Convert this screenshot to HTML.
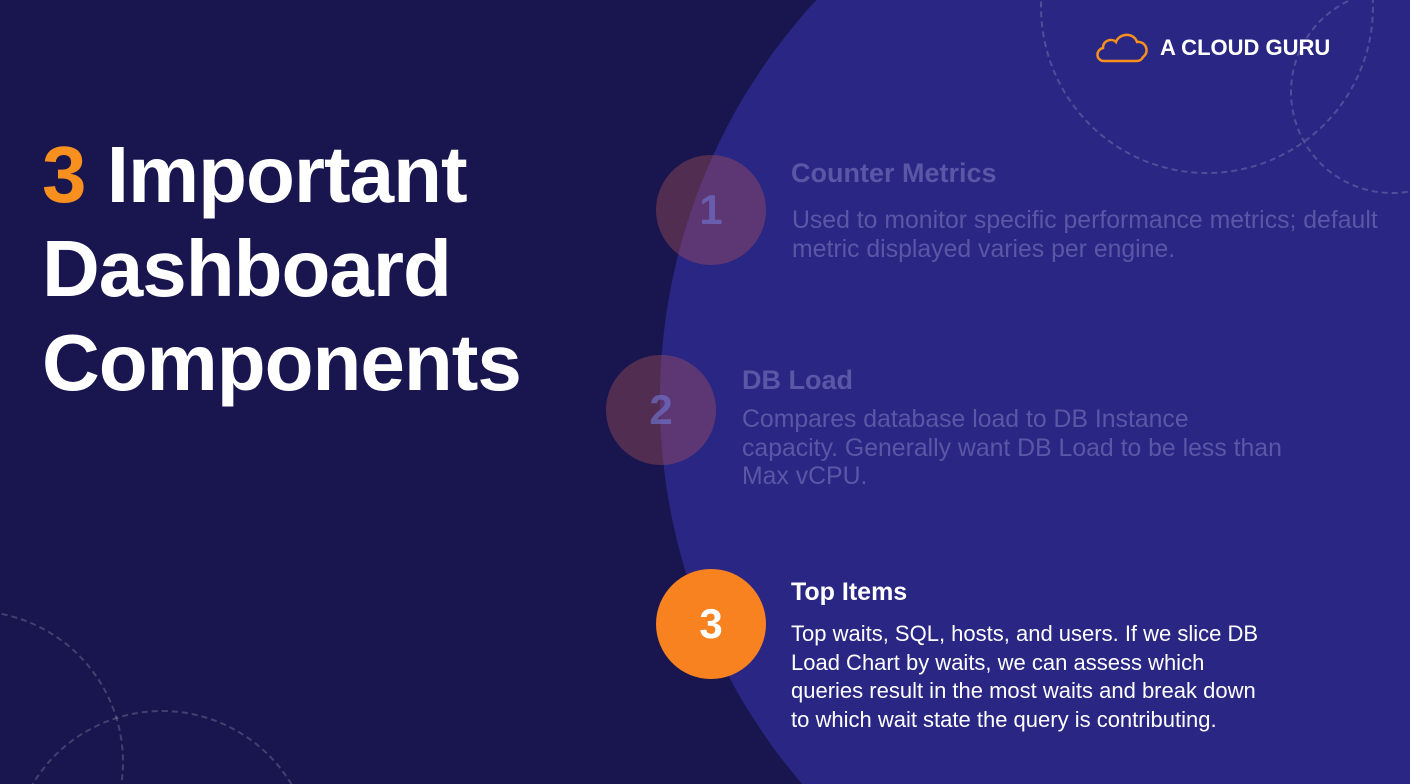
<!DOCTYPE html>
<html><head><meta charset="utf-8"><style>
html,body{margin:0;padding:0;width:1410px;height:784px;overflow:hidden}
#wrap{position:relative;width:1410px;height:784px;overflow:hidden;background:#19164f;font-family:"Liberation Sans",sans-serif}
.big{position:absolute;left:660px;top:-190px;width:1180px;height:1180px;border-radius:50%;background:#2a2683}
.dash{position:absolute;border:2px dashed rgba(255,255,255,0.18);border-radius:50%}
.title{position:absolute;left:42px;top:128px;color:#fff;font-weight:bold;font-size:80px;line-height:94px;letter-spacing:-1px}
.title span{color:#f7901e}
.c{position:absolute;width:110px;height:110px;border-radius:50%;color:#fff;font-weight:bold;font-size:42px;text-align:center;line-height:110px}
.faded{background:rgba(190,90,90,0.35);color:rgba(110,110,200,0.7)}
.h{position:absolute;font-weight:bold;font-size:25px}
.p{position:absolute;font-size:22px;line-height:28.5px}
.f{color:#5a57a6}
.pf{font-size:24.8px}
.hf{font-size:27px}
.w{color:#fff}
.logo{position:absolute;left:1160px;top:35px;color:#fff;font-weight:bold;font-size:22px}
</style></head><body><div id="wrap">
<div class="big"></div>
<div class="dash" style="left:1040px;top:-160px;width:330px;height:330px"></div>
<div class="dash" style="left:1290px;top:-10px;width:200px;height:200px"></div>
<div class="dash" style="left:-180px;top:610px;width:300px;height:300px"></div>
<div class="dash" style="left:10px;top:710px;width:300px;height:300px"></div>
<div class="title"><span>3</span> Important<br>Dashboard<br>Components</div>
<svg style="position:absolute;left:1094px;top:30px" width="56" height="34" viewBox="0 0 56 34"><path d="M10 31 C2 31 1 20 9 18 C9 10 18 8 22 12 C25 3 40 2 43 12 C52 11 56 22 49 27 C47 31 44 31 42 31 Z" fill="none" stroke="#f7901e" stroke-width="2.5"/></svg>
<div class="logo">A CLOUD GURU</div>
<div class="c faded" style="left:656px;top:155px">1</div>
<div class="h f hf" style="left:791px;top:158px">Counter Metrics</div>
<div class="p f pf" style="left:792px;top:207px">Used to monitor specific performance metrics; default<br>metric displayed varies per engine.</div>
<div class="c faded" style="left:606px;top:355px">2</div>
<div class="h f hf" style="left:742px;top:365px">DB Load</div>
<div class="p f pf" style="left:742px;top:406px">Compares database load to DB Instance<br>capacity. Generally want DB Load to be less than<br>Max vCPU.</div>
<div class="c" style="left:656px;top:569px;background:#f7821f">3</div>
<div class="h w" style="left:791px;top:578px">Top Items</div>
<div class="p w" style="left:791px;top:620px">Top waits, SQL, hosts, and users. If we slice DB<br>Load Chart by waits, we can assess which<br>queries result in the most waits and break down<br>to which wait state the query is contributing.</div>
</div></body></html>
